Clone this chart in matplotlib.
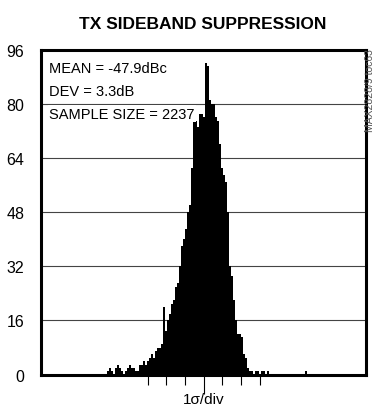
import numpy as np
import matplotlib.pyplot as plt

# histogram of sideband suppression, x in units of sigma from the mean
bin_start = -5.19
bin_width = 0.107
counts = [1, 2, 1, 0, 2, 3, 2, 1, 0, 1,
          2, 3, 2, 2, 1, 1, 3, 3, 4, 3,
          4, 5, 6, 5, 7, 8, 8, 9, 20, 13,
          16, 18, 21, 22, 26, 27, 32, 38, 40, 43,
          48, 50, 61, 75, 75, 73, 77, 77, 76, 92,
          91, 81, 80, 80, 76, 75, 68, 61, 59, 57,
          48, 32, 29, 22, 16, 12, 12, 11, 6, 5,
          2, 1, 1, 0, 1, 1, 0, 1, 1, 0,
          1, 0, 0, 0, 0, 0, 0, 0, 0, 0,
          0, 0, 0, 0, 0, 0, 0, 0, 0, 1]

y_ticks = [0, 16, 32, 48, 64, 80, 96]
x_ticks = [-3, -2, -1, 0, 1, 2, 3]
stats_lines = ["MEAN = -47.9dBc", "DEV = 3.3dB", "SAMPLE SIZE = 2237"]

font = ["Liberation Sans", "DejaVu Sans"]

edges = bin_start + bin_width * np.arange(len(counts) + 1)

fig = plt.figure(figsize=(3.83, 4.10), dpi=100)
ax = fig.add_axes([0.107, 0.0837, 0.849, 0.793])

for y in y_ticks[1:-1]:
    ax.axhline(y, color="#444444", lw=0.8, zorder=1)

ax.stairs(counts, edges, fill=True, color="black", zorder=2)

ax.set_xlim(-8.7, 8.7)
ax.set_ylim(0, 96)
ax.set_yticks(y_ticks)
ax.set_yticklabels([str(v) for v in y_ticks], family=font, fontsize=11.5)
ax.tick_params(axis="y", length=0, pad=12)
ax.set_xticks(x_ticks)
ax.set_xticklabels([])
ax.tick_params(axis="x", length=7, width=0.8, direction="out")
ax.get_xaxis().get_major_ticks()[3].tick1line.set_markersize(14)

for s in ax.spines.values():
    s.set_linewidth(2.2)
    s.set_zorder(3)

for i, line in enumerate(stats_lines):
    ax.text(0.025, 0.943 - i * 0.07, line, transform=ax.transAxes,
            family=font, fontsize=10.5, va="center", ha="left",
            bbox=dict(facecolor="white", edgecolor="none", pad=1.0), zorder=4)

fig.text(0.53, 0.941, "TX SIDEBAND SUPPRESSION", family=font,
         fontweight="bold", fontsize=12.5, ha="center", va="center")
fig.text(0.532, 0.041, "1\u03c3/div", family=font, fontsize=11,
         ha="center", va="top")
fig.text(0.965, 0.88, "MAX2828/9 toc63", family=font, fontsize=7.5,
         color="#555555", rotation=90, ha="center", va="top")

fig.savefig("out.png", dpi=100)
